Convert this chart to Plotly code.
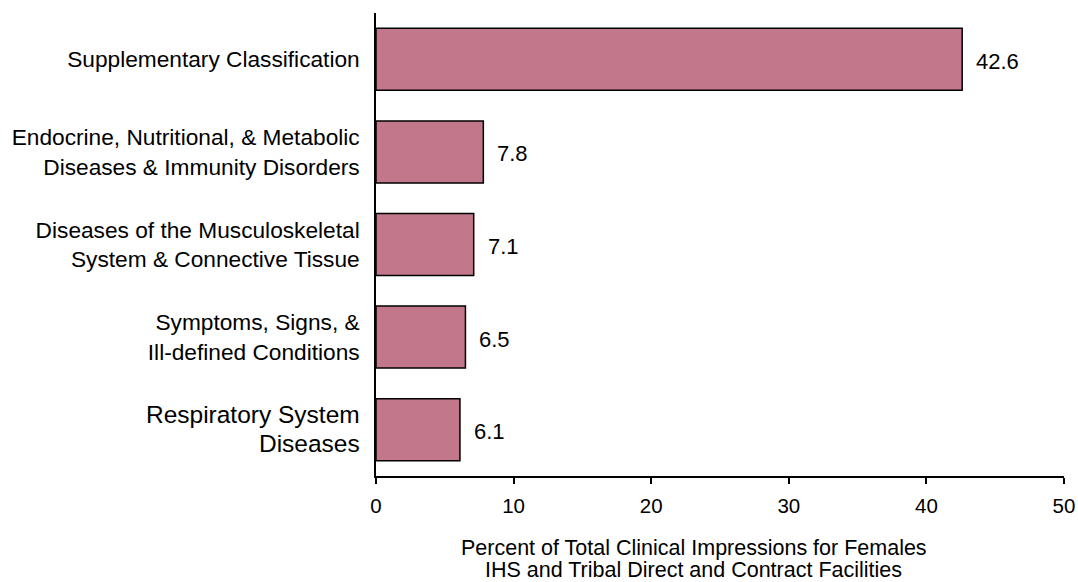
import plotly.graph_objects as go

FONT = "Liberation Sans, Arial, sans-serif"
BAR_COLOR = "#C2778B"

categories = [
    "Supplementary Classification",
    "Endocrine, Nutritional, & Metabolic",
    "Diseases of the Musculoskeletal",
    "Symptoms, Signs, &",
    "Respiratory System",
]
category_labels = [
    "Supplementary Classification",
    "Endocrine, Nutritional, & Metabolic<br>Diseases & Immunity Disorders",
    "Diseases of the Musculoskeletal<br>System & Connective Tissue",
    "Symptoms, Signs, &<br>Ill-defined Conditions",
    "<span style='font-size:24.5px'>Respiratory System<br>Diseases</span>",
]
percent = [42.6, 7.8, 7.1, 6.5, 6.1]
x_ticks = [0, 10, 20, 30, 40, 50]
axis_title = [
    "Percent of Total Clinical Impressions for Females",
    "IHS and Tribal Direct and Contract Facilities",
]

fig = go.Figure(
    go.Bar(
        y=categories,
        x=percent,
        orientation="h",
        marker=dict(color=BAR_COLOR, line=dict(color="black", width=1.5)),
        hoverinfo="x+y",
    )
)

# value labels to the right of each bar
for cat, val in zip(categories, percent):
    fig.add_annotation(
        x=val, y=cat, xref="x", yref="y",
        text=f"{val:.1f}", showarrow=False,
        xanchor="left", yanchor="middle", xshift=12, yshift=-2,
        font=dict(family=FONT, size=22, color="black"),
    )

# two-line axis title, centred a bit left of the plot centre like the original
for i, line in enumerate(axis_title):
    fig.add_annotation(
        x=0.462, y=-0.155 - 0.047 * i, xref="paper", yref="paper",
        text=line, showarrow=False, xanchor="center", yanchor="middle",
        font=dict(family=FONT, size=21.5, color="black"),
    )

fig.update_layout(
    width=1078,
    height=582,
    paper_bgcolor="white",
    plot_bgcolor="white",
    showlegend=False,
    bargap=0.33,
    margin=dict(l=376, r=14, t=13, b=106),
    font=dict(family=FONT, size=22, color="black"),
    xaxis=dict(
        range=[0, 50],
        tickvals=x_ticks,
        ticks="outside",
        ticklen=6,
        tickwidth=1.5,
        tickcolor="black",
        showline=True,
        linecolor="black",
        linewidth=1.5,
        showgrid=False,
        zeroline=False,
        automargin=False,
        ticklabelstandoff=5,
        tickfont=dict(family=FONT, size=20.5, color="black"),
    ),
    yaxis=dict(
        categoryorder="array",
        categoryarray=categories,
        tickvals=categories,
        ticktext=category_labels,
        autorange="reversed",
        showline=True,
        linecolor="black",
        linewidth=1.5,
        ticks="",
        showgrid=False,
        zeroline=False,
        automargin=False,
        ticklabelstandoff=10,
        tickfont=dict(family=FONT, size=22.7, color="black"),
    ),
)

# drop the default page margin so the 1078x582 figure fills the window exactly
fig.write_html(
    "out.html",
    config={"displayModeBar": False},
    post_script="document.body.style.margin = '0';",
)
